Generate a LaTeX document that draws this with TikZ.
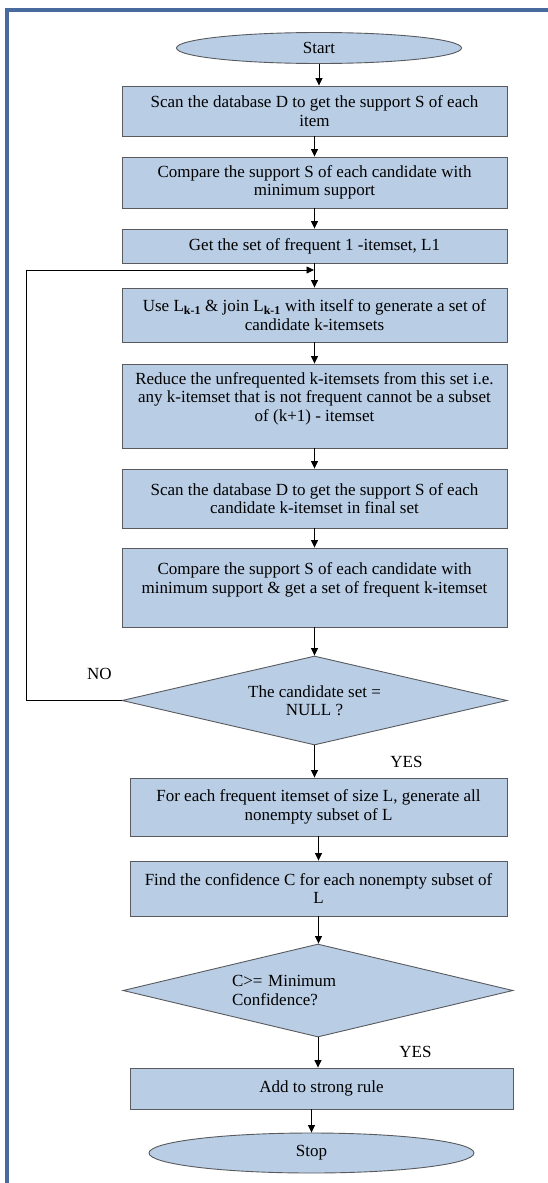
\documentclass[tikz,border=0pt]{standalone}
\usepackage{fontspec}
\setmainfont{Liberation Serif}
\usepackage{tikz}
\usetikzlibrary{arrows.meta,shapes.geometric}
\definecolor{flowfill}{RGB}{185,205,229}
\definecolor{flowedge}{RGB}{88,90,94}
\definecolor{frameblue}{RGB}{72,106,158}

\tikzset{
  procbox/.style={draw=flowedge,fill=flowfill,line width=0.9pt,rectangle,
    align=center,minimum width=385pt,inner sep=0pt},
  termnode/.style={draw=flowedge,fill=flowfill,line width=0.9pt,ellipse,inner sep=0pt},
  decnode/.style={draw=flowedge,fill=flowfill,line width=0.9pt,diamond,
    shape aspect=4.3,inner sep=2pt,align=center},
  lbl/.style={inner sep=0pt},
  flow/.style={->,line width=0.8pt}
}

\begin{document}
\begin{tikzpicture}[x=1pt,y=-1pt,font=\fontsize{17}{18.5}\selectfont,
    >={Triangle[length=7.5pt,width=7pt]}]
  \useasboundingbox (0,0) rectangle (548,1183);
  % ---- page frame ----
  \draw[frameblue,line width=3.4pt] (7,1190) -- (7,10) -- (560,10);
  % ---- first pass: 1-itemsets ----
  \node[termnode,minimum width=285pt,minimum height=31pt] (start) at (319,48) {Start};
  \node[procbox,minimum height=50pt] (scan) at (314.5,111)
       {Scan the database D to get the support S of each\\item};
  \node[procbox,minimum height=51pt] (cmp) at (314.5,182.5)
       {Compare the support S of each candidate with\\minimum support};
  \node[procbox,minimum height=34pt] (lone) at (314.5,246)
       {Get the set of frequent 1 -itemset, L1};
  % ---- loop over k ----
  \node[procbox,minimum height=54pt] (join) at (314.5,315)
       {Use L\textsubscript{\textbf{k-1}} \& join L\textsubscript{\textbf{k-1}} with itself to generate a set of\\candidate k-itemsets};
  \node[procbox,minimum height=84pt] (prune) at (314.5,406)
       {Reduce the unfrequented k-itemsets from this set i.e.\\any k-itemset that is not frequent cannot be a subset\\of (k+1) - itemset\\~};
  \node[procbox,minimum height=59pt] (scank) at (314.5,498.5)
       {Scan the database D to get the support S of each\\candidate k-itemset in final set};
  \node[procbox,minimum height=79pt] (cmpk) at (314.5,587.5)
       {Compare the support S of each candidate with\\minimum support \& get a set of frequent k-itemset\\~};
  \node[decnode,minimum width=385pt,minimum height=89pt] (isnull) at (314.5,700.5)
       {The candidate set =\\NULL ?};
  % ---- rule generation ----
  \node[procbox,minimum width=377pt,minimum height=58pt] (subs) at (318.5,807)
       {For each frequent itemset of size L, generate all\\nonempty subset of L};
  \node[procbox,minimum width=377pt,minimum height=55pt] (conf) at (318.5,888.5)
       {Find the confidence C for each nonempty subset of\\L};
  \node[decnode,minimum width=390pt,minimum height=93pt,text width=172pt,align=left]
       (isstrong) at (318,990.5) {C>= Minimum\\Confidence?};
  \node[procbox,minimum width=383pt,minimum height=41pt] (rule) at (321.5,1088.5)
       {Add to strong rule};
  \node[termnode,minimum width=325pt,minimum height=40pt] (stop) at (311.5,1153) {Stop};
  % ---- labels ----
  \node[lbl] (no) at (99.5,674) {NO};
  \node[lbl] (yesa) at (406.5,762) {YES};
  \node[lbl] (yesb) at (415.5,1052) {YES};
  % ---- connectors ----
  \coordinate (merge) at (314.5,270);
  \coordinate (back) at (26,270);
  \draw[flow] (start.south) -- (start.south |- scan.north);
  \draw[flow] (scan) -- (cmp);
  \draw[flow] (cmp) -- (lone);
  \draw[flow] (lone) -- (join);
  \draw[flow] (join) -- (prune);
  \draw[flow] (prune) -- (scank);
  \draw[flow] (scank) -- (cmpk);
  \draw[flow] (cmpk) -- (isnull);
  \draw[flow,shorten >=0.5pt] (isnull.west) -| (back) -- (merge);
  \draw[flow] (isnull.south) -- (isnull.south |- subs.north);
  \draw[flow] (subs) -- (conf);
  \draw[flow] (conf.south) -- (conf.south |- isstrong.north);
  \draw[flow] (isstrong.south) -- (isstrong.south |- rule.north);
  \draw[flow] (rule.south -| stop.north) -- (stop.north);
\end{tikzpicture}
\end{document}
